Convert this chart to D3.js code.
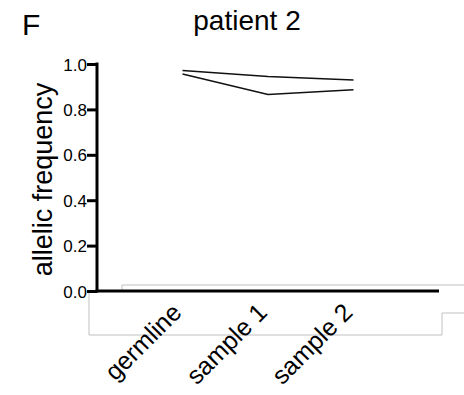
<!DOCTYPE html>
<html>
<head>
<meta charset="utf-8">
<script src="https://cdn.jsdelivr.net/npm/d3@7"></script>
<style>
body { margin: 0; background: #fff; }
text { font-family: "Liberation Sans", Arial, sans-serif; }
</style>
</head>
<body>
<svg id="chart" width="464" height="395"></svg>
<script>
var samples = ["germline", "sample 1", "sample 2"];
var variant1 = [0.971, 0.945, 0.930];
var variant2 = [0.956, 0.866, 0.887];
var yTicks = [0.0, 0.2, 0.4, 0.6, 0.8, 1.0];

var svg = d3.select("#chart");

var plotLeft = 97, plotRight = 439, plotTop = 64, plotBottom = 291;

var x = d3.scalePoint().domain(samples).range([plotLeft, plotRight]).padding(1);
var y = d3.scaleLinear().domain([0, 1]).range([plotBottom, plotTop]);

// grey frame left over from the original figure
svg.append("path")
    .attr("d", "M" + (plotLeft + 25) + "," + (plotBottom + 1) + "V" + (plotBottom - 6) + "H464")
    .attr("fill", "none").attr("stroke", "#c0c0c0").attr("stroke-width", 1);
svg.append("path")
    .attr("d", "M" + (plotLeft - 8) + "," + (plotBottom + 1) + "V" + (plotBottom + 44) + "H" + (plotRight + 3) + "V" + (plotBottom + 22) + "H464")
    .attr("fill", "none").attr("stroke", "#c0c0c0").attr("stroke-width", 1);

// y axis
var yAxis = svg.append("g")
    .attr("transform", "translate(" + plotLeft + ",0)")
    .call(d3.axisLeft(y).tickValues(yTicks).tickFormat(d3.format(".1f")).tickSize(10).tickSizeOuter(0));
yAxis.select(".domain").attr("stroke", "#000").attr("stroke-width", 3).attr("d", "M0," + (plotTop - 1.5) + "V" + (plotBottom + 1.5));
yAxis.selectAll(".tick line").attr("stroke", "#000").attr("stroke-width", 3);
yAxis.selectAll(".tick text")
    .attr("x", -10).attr("dy", "0.36em")
    .style("font-size", "17px").attr("fill", "#000");

// x axis
var xAxis = svg.append("g")
    .attr("transform", "translate(0," + plotBottom + ")")
    .call(d3.axisBottom(x).tickSize(0).tickSizeOuter(0));
xAxis.select(".domain").attr("stroke", "#000").attr("stroke-width", 3).attr("d", "M" + (plotLeft - 1.5) + ",0H" + plotRight);
xAxis.selectAll(".tick text")
    .attr("y", 0).attr("dy", 0)
    .attr("text-anchor", "end")
    .attr("transform", "translate(0,23) rotate(-45)")
    .style("font-size", "25px").attr("fill", "#000");

// lines
var line = d3.line()
    .x(function (d, i) { return x(samples[i]); })
    .y(function (d) { return y(d); });

svg.selectAll(".variant")
    .data([variant1, variant2])
    .enter().append("path")
    .attr("class", "variant")
    .attr("d", line)
    .attr("fill", "none")
    .attr("stroke", "#111")
    .attr("stroke-width", 1.5);

// labels
svg.append("text")
    .attr("x", 247).attr("y", 30)
    .attr("text-anchor", "middle")
    .style("font-size", "28px")
    .text("patient 2");

svg.append("text")
    .attr("x", 22).attr("y", 35)
    .style("font-size", "30px")
    .text("F");

svg.append("text")
    .attr("transform", "translate(52," + ((plotTop + plotBottom) / 2 + 2) + ") rotate(-90)")
    .attr("text-anchor", "middle")
    .style("font-size", "27px")
    .text("allelic frequency");
</script>
</body>
</html>
